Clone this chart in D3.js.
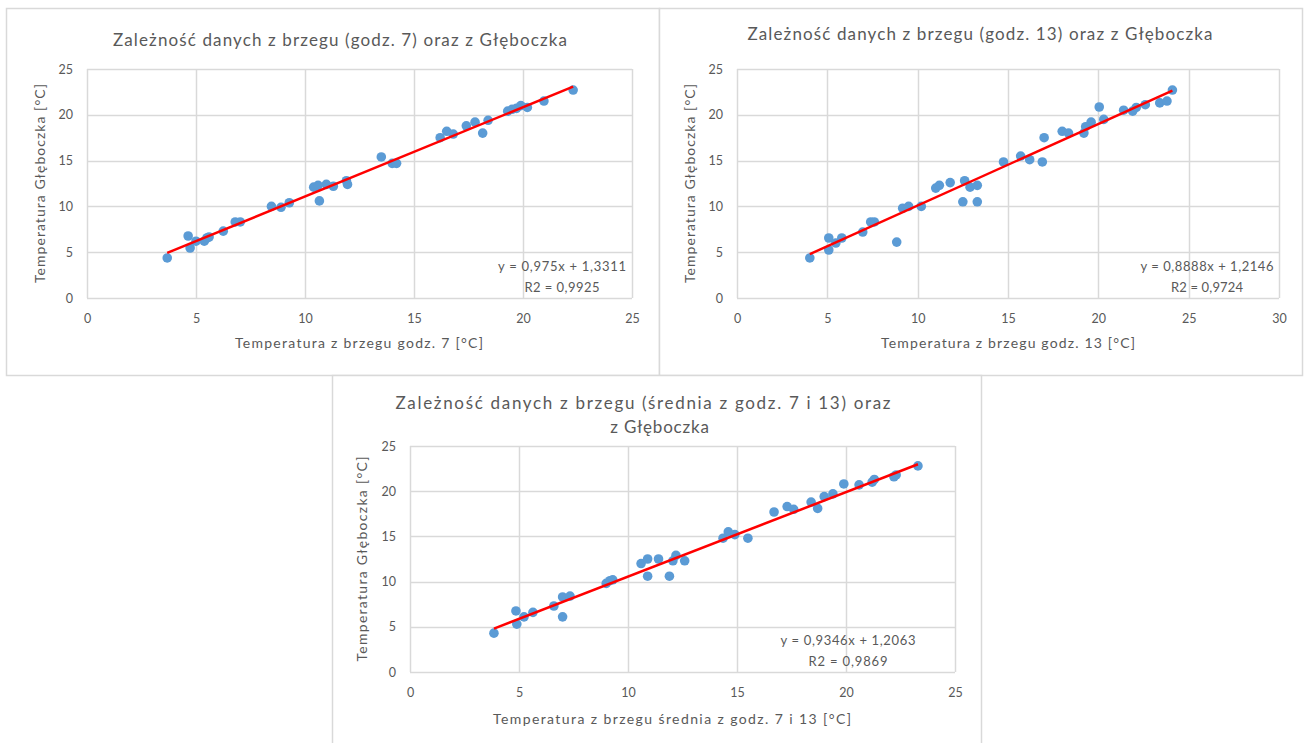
<!DOCTYPE html>
<html><head><meta charset="utf-8">
<script src="https://cdn.jsdelivr.net/npm/d3@7"></script>
<style>body{margin:0;background:#fff;}svg{display:block;}</style>
</head><body>
<svg id="c" width="1307" height="743"></svg>
<script>
// ---- DATA ----
const x1 = [3.68,4.64,4.73,5.0,5.38,5.5,5.6,6.25,6.8,7.03,8.46,8.9,9.28,10.4,10.6,10.66,10.98,11.3,11.9,11.95,13.5,14.0,14.2,16.2,16.5,16.8,17.4,17.8,18.15,18.4,19.3,19.5,19.7,19.9,20.2,20.96,22.3];
const y1 = [4.37,6.77,5.46,6.2,6.2,6.55,6.66,7.3,8.3,8.3,10.0,9.9,10.4,12.1,12.3,10.6,12.4,12.2,12.8,12.4,15.4,14.7,14.7,17.5,18.2,17.9,18.8,19.2,18.0,19.4,20.4,20.6,20.7,21.0,20.8,21.5,22.7];
const x2 = [4.03,5.08,5.08,5.47,5.8,6.96,7.4,7.6,8.84,9.17,9.5,10.2,11.0,11.2,11.8,12.5,12.6,12.9,13.3,13.3,14.75,15.7,16.2,16.9,17.0,18.0,18.35,19.2,19.3,19.6,20.05,20.3,21.4,21.9,22.1,22.6,23.4,23.8,24.1];
const y2 = [4.37,6.55,5.24,6.0,6.55,7.2,8.3,8.3,6.1,9.8,10.0,10.0,12.0,12.3,12.6,10.5,12.8,12.1,12.3,10.5,14.85,15.5,15.1,14.85,17.5,18.2,18.0,18.0,18.7,19.2,20.85,19.5,20.5,20.4,20.8,21.1,21.3,21.5,22.7];
const x3 = [3.85,4.86,4.9,5.23,5.64,6.6,7.0,7.34,7.0,9.0,9.17,9.3,10.6,10.9,10.9,11.4,11.9,12.06,12.2,12.6,14.36,14.6,14.9,15.5,16.7,17.3,17.6,18.4,18.7,19.0,19.4,19.9,20.6,21.2,21.3,22.2,22.3,23.3];
const y3 = [4.3,6.75,5.3,6.1,6.6,7.3,8.3,8.4,6.1,9.8,10.1,10.2,12.0,12.5,10.6,12.5,10.6,12.3,12.9,12.3,14.8,15.5,15.2,14.8,17.7,18.3,18.0,18.8,18.1,19.4,19.7,20.8,20.7,21.0,21.3,21.6,21.8,22.8];
const slopes = [0.975, 0.8888, 0.9346];
const intercepts = [1.3311, 1.2146, 1.2063];
const eqLabels = ["y = 0,975x + 1,3311", "y = 0,8888x + 1,2146", "y = 0,9346x + 1,2063"];
const r2Labels = ["R2 = 0,9925", "R2 = 0,9724", "R2 = 0,9869"];
const xTicks1 = [0,5,10,15,20,25];
const xTicks2 = [0,5,10,15,20,25,30];
const xTicks3 = [0,5,10,15,20,25];
const yTicks = [0,5,10,15,20,25];
const titles = [
  ["Zależność danych z brzegu (godz. 7) oraz z Głęboczka"],
  ["Zależność danych z brzegu (godz. 13) oraz z Głęboczka"],
  ["Zależność danych z brzegu (średnia z godz. 7 i 13) oraz", "z Głęboczka"]
];
const xTitles = ["Temperatura z brzegu godz. 7 [°C]", "Temperatura z brzegu godz. 13 [°C]", "Temperatura z brzegu średnia z godz. 7 i 13 [°C]"];
const yTitle = "Temperatura Głęboczka [°C]";

// ---- LAYOUT ----
const FONT = "Lato, 'Open Sans', sans-serif";
const TXT = "#595959";
const GRID = "#d9d9d9";
const svg = d3.select("#c");

const charts = [
  {panel:[6,8,653,367], plot:[87,69,632,298], xs:x1, ys:y1, xt:xTicks1, xmax:25,
   title:{cx:[340], ys:[46], w:[454]}, eq:{cx:562, ys:[271,292], w:[128,75]},
   xTitle:{cx:359, y:348, w:248}, yTitleX:45, yTitleW:199},
  {panel:[659,8,643,367], plot:[737,69,1279,298], xs:x2, ys:y2, xt:xTicks2, xmax:30,
   title:{cx:[980], ys:[40], w:[465]}, eq:{cx:1207, ys:[271,292], w:[133,72]},
   xTitle:{cx:1008, y:348, w:254}, yTitleX:695, yTitleW:199},
  {panel:[332,375,649,380], plot:[410,446,955,672], xs:x3, ys:y3, xt:xTicks3, xmax:25,
   title:{cx:[643,660], ys:[409,433], w:[495,null]}, eq:{cx:848, ys:[645,666], w:[135,79]},
   xTitle:{cx:672, y:724, w:358}, yTitleX:367, yTitleW:205}
];

function fitText(sel, w) {
  if (w) sel.attr("textLength", w).attr("lengthAdjust", "spacing");
}

charts.forEach((c, i) => {
  const g = svg.append("g");
  g.append("rect").attr("x", c.panel[0]+0.5).attr("y", c.panel[1]+0.5)
    .attr("width", c.panel[2]).attr("height", c.panel[3])
    .attr("fill", "#fff").attr("stroke", GRID).attr("stroke-width", 1.5);

  const [l, t, r, b] = c.plot;
  const x = d3.scaleLinear().domain([0, c.xmax]).range([l, r]);
  const y = d3.scaleLinear().domain([0, 25]).range([b, t]);

  // gridlines
  g.append("g").selectAll("line").data(c.xt).join("line")
    .attr("x1", d => Math.round(x(d))+0.5).attr("x2", d => Math.round(x(d))+0.5)
    .attr("y1", t).attr("y2", b).attr("stroke", GRID).attr("stroke-width", 1.5);
  g.append("g").selectAll("line").data(yTicks).join("line")
    .attr("y1", d => Math.round(y(d))+0.5).attr("y2", d => Math.round(y(d))+0.5)
    .attr("x1", l).attr("x2", r).attr("stroke", GRID).attr("stroke-width", 1.5);

  // tick labels
  const xa = g.append("g").attr("transform", `translate(0,${b+10})`)
    .call(d3.axisBottom(x).tickValues(c.xt).tickSize(0).tickPadding(6).tickFormat(d3.format("d")));
  xa.select(".domain").remove();
  xa.selectAll("text").attr("fill", TXT).style("font-family", FONT).style("font-size", "12.5px");
  const ya = g.append("g").attr("transform", `translate(${l-10},0)`)
    .call(d3.axisLeft(y).tickValues(yTicks).tickSize(0).tickPadding(4).tickFormat(d3.format("d")));
  ya.select(".domain").remove();
  ya.selectAll("text").attr("fill", TXT).style("font-family", FONT).style("font-size", "12.5px");

  // points
  const pts = c.xs.map((v, k) => [v, c.ys[k]]);
  g.append("g").selectAll("circle").data(pts).join("circle")
    .attr("cx", d => x(d[0])).attr("cy", d => y(d[1])).attr("r", 4.8)
    .attr("fill", "#5b9bd5");

  // trendline
  const xmin = d3.min(c.xs), xmx = d3.max(c.xs);
  const line = d3.line().x(d => x(d)).y(d => y(slopes[i]*d + intercepts[i]));
  g.append("path").datum([xmin, xmx]).attr("d", line)
    .attr("stroke", "#ff0000").attr("stroke-width", 2.5).attr("fill", "none");

  // equation
  [eqLabels[i], r2Labels[i]].forEach((s, k) => {
    g.append("text").attr("x", c.eq.cx).attr("y", c.eq.ys[k]).attr("text-anchor", "middle")
      .attr("fill", TXT).style("font-family", FONT).style("font-size", "13px").text(s)
      .call(fitText, c.eq.w[k]);
  });

  // title
  titles[i].forEach((tl, k) => {
    g.append("text").attr("x", c.title.cx[k]).attr("y", c.title.ys[k]).attr("text-anchor", "middle")
      .attr("fill", TXT).style("font-family", FONT).style("font-size", "17px")
      .style("letter-spacing", c.title.w[k] ? null : "0.8px").text(tl)
      .call(fitText, c.title.w[k]);
  });
  // axis titles
  g.append("text").attr("x", c.xTitle.cx).attr("y", c.xTitle.y).attr("text-anchor", "middle")
    .attr("fill", TXT).style("font-family", FONT).style("font-size", "14px").text(xTitles[i])
    .call(fitText, c.xTitle.w);
  g.append("text").attr("transform", `translate(${c.yTitleX},${(t+b)/2}) rotate(-90)`)
    .attr("text-anchor", "middle").attr("fill", TXT)
    .style("font-family", FONT).style("font-size", "14px").text(yTitle)
    .call(fitText, c.yTitleW);
});
</script>
</body></html>
